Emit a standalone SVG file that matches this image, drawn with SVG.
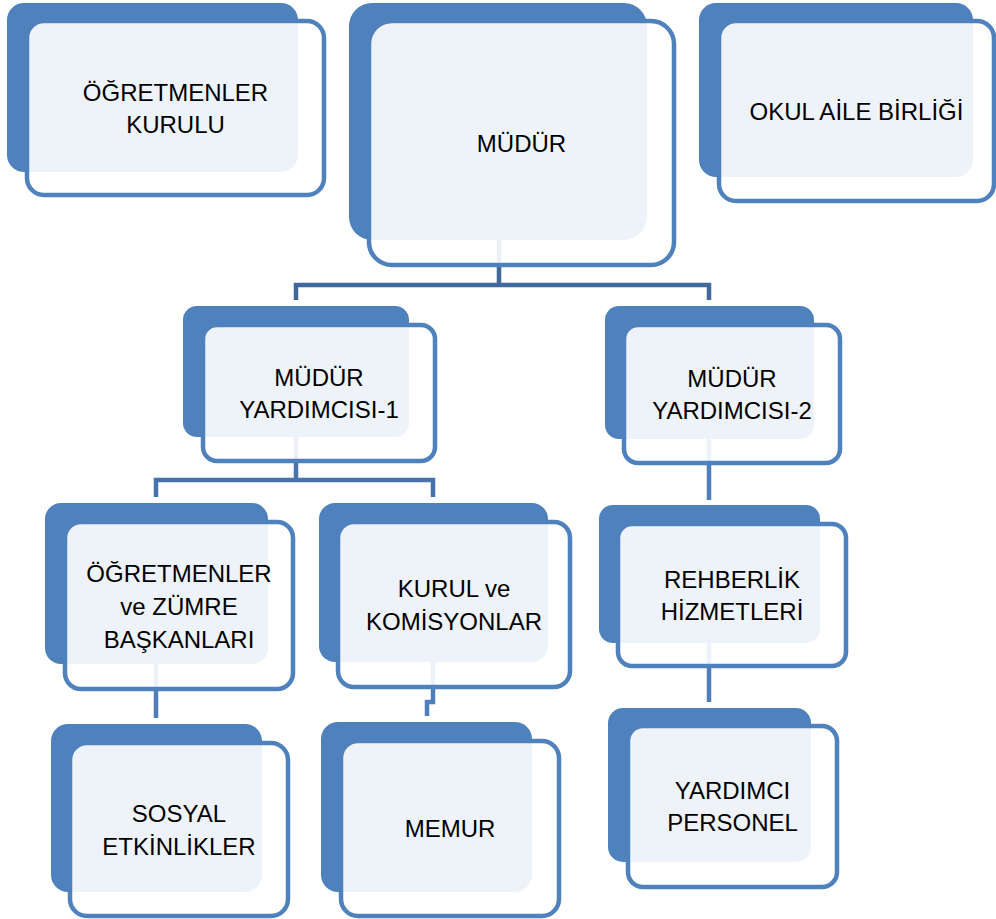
<svg xmlns="http://www.w3.org/2000/svg" width="996" height="919" viewBox="0 0 996 919">
<style>
.back{fill:#4F81BD}
.front{fill:#FFFFFF;fill-opacity:0.9;stroke:#4F81BD;stroke-width:4.5}
.t{font-family:"Liberation Sans",Arial,sans-serif;font-size:24px;fill:#000000;text-anchor:middle}
.c1{fill:none;stroke:#41699C;stroke-width:4.5}
.c2{fill:none;stroke:#4673AD;stroke-width:4.5}
.c3{fill:none;stroke:#4E7FBB;stroke-width:4.5}
</style>
<rect width="996" height="919" fill="#FFFFFF"/>
<g id="connectors">
<path class="c1" d="M499,235 V285 M296,300 V285 H709 V300"/>
<path class="c2" d="M296,430 V480 M156,497 V480 H433 V497"/>
<path class="c3" d="M709,430 V500"/>
<path class="c3" d="M156,655 V718"/>
<path class="c3" d="M433,655 V702 H427 V716"/>
<path class="c3" d="M709,635 V702"/>
</g>
<g id="ogretmenler-kurulu">
<rect class="back" x="7" y="3" width="291" height="169" rx="17"/>
<rect class="front" x="27" y="21" width="297" height="174" rx="17"/>
<text class="t" x="175.5" y="101">ÖĞRETMENLER</text>
<text class="t" x="175.5" y="133">KURULU</text>
</g>
<g id="mudur">
<rect class="back" x="349" y="3" width="298" height="237" rx="23"/>
<rect class="front" x="369" y="21" width="305" height="244" rx="23"/>
<text class="t" x="521.5" y="152">MÜDÜR</text>
</g>
<g id="okul-aile-birligi">
<rect class="back" x="699" y="3" width="274" height="174" rx="17"/>
<rect class="front" x="719" y="21" width="275" height="180" rx="17"/>
<text class="t" x="856.5" y="120">OKUL AİLE BİRLİĞİ</text>
</g>
<g id="mudur-yardimcisi-1">
<rect class="back" x="183" y="306" width="226" height="131" rx="14"/>
<rect class="front" x="203" y="325" width="232" height="136" rx="14"/>
<text class="t" x="319" y="386">MÜDÜR</text>
<text class="t" x="319" y="418">YARDIMCISI-1</text>
</g>
<g id="mudur-yardimcisi-2">
<rect class="back" x="605" y="306" width="209" height="133" rx="14"/>
<rect class="front" x="624" y="325" width="216" height="138" rx="14"/>
<text class="t" x="732" y="387">MÜDÜR</text>
<text class="t" x="732" y="419">YARDIMCISI-2</text>
</g>
<g id="ogretmenler-zumre">
<rect class="back" x="45" y="503" width="223" height="161" rx="16"/>
<rect class="front" x="65" y="522" width="228" height="167" rx="16"/>
<text class="t" x="179" y="582">ÖĞRETMENLER</text>
<text class="t" x="179" y="615">ve ZÜMRE</text>
<text class="t" x="179" y="648">BAŞKANLARI</text>
</g>
<g id="kurul-komisyonlar">
<rect class="back" x="319" y="503" width="229" height="159" rx="16"/>
<rect class="front" x="338" y="522" width="232" height="165" rx="16"/>
<text class="t" x="454" y="597">KURUL ve</text>
<text class="t" x="454" y="630">KOMİSYONLAR</text>
</g>
<g id="rehberlik">
<rect class="back" x="599" y="505" width="221" height="138" rx="14"/>
<rect class="front" x="618" y="524" width="228" height="142" rx="14"/>
<text class="t" x="732" y="588">REHBERLİK</text>
<text class="t" x="732" y="620">HİZMETLERİ</text>
</g>
<g id="sosyal-etkinlikler">
<rect class="back" x="51" y="724" width="211" height="168" rx="17"/>
<rect class="front" x="70" y="743" width="218" height="173" rx="17"/>
<text class="t" x="179" y="822">SOSYAL</text>
<text class="t" x="179" y="855">ETKİNLİKLER</text>
</g>
<g id="memur">
<rect class="back" x="321" y="722" width="211" height="170" rx="17"/>
<rect class="front" x="341" y="741" width="218" height="175" rx="17"/>
<text class="t" x="450" y="837">MEMUR</text>
</g>
<g id="yardimci-personel">
<rect class="back" x="608" y="708" width="203" height="154" rx="15"/>
<rect class="front" x="628" y="726" width="209" height="161" rx="15"/>
<text class="t" x="732.5" y="799">YARDIMCI</text>
<text class="t" x="732.5" y="831">PERSONEL</text>
</g>
</svg>
